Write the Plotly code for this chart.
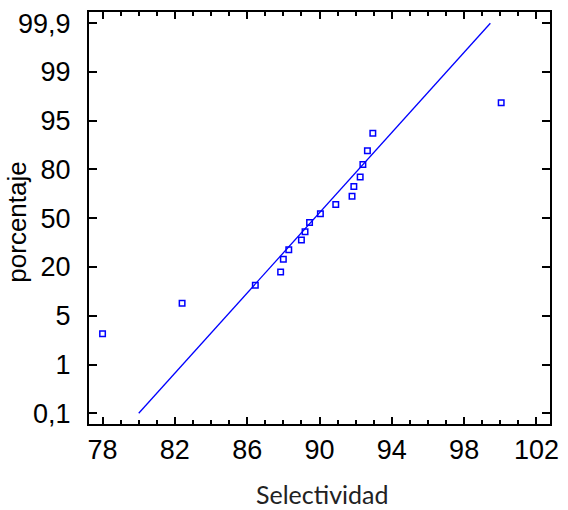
import numpy as np
from statistics import NormalDist
import plotly.graph_objects as go

# Observed data (Selectividad) and plotted cumulative percentages
selectividad = [78.0, 82.4, 86.45, 87.85, 88.0, 88.3, 89.0, 89.2, 89.45,
                90.05, 90.9, 91.8, 91.9, 92.25, 92.4, 92.65, 92.95, 100.05]
porcentaje = [2.9, 7.5, 12.7, 17.8, 23.9, 29.4, 35.3, 40.8, 47.1,
              53.1, 59.4, 64.8, 70.8, 76.2, 82.2, 87.5, 92.5, 97.1]

# Fitted reference line (end points)
fit_x = [80.0, 99.45]
fit_pct = [0.1, 99.9]

# Probability axis tick labels
tick_pct = [0.1, 1, 5, 20, 50, 80, 95, 99, 99.9]
tick_text = ["0,1", "1", "5", "20", "50", "80", "95", "99", "99,9"]

nd = NormalDist()
tick_z = np.array([nd.inv_cdf(p / 100) for p in tick_pct])
tick_pos = np.arange(len(tick_pct))


def to_axis(pcts):
    z = np.array([nd.inv_cdf(p / 100) for p in pcts])
    return np.interp(z, tick_z, tick_pos)


fig = go.Figure()
fig.add_trace(go.Scatter(
    x=fit_x, y=to_axis(fit_pct), mode="lines",
    line=dict(color="#0000ff", width=1.3), hoverinfo="skip"))
fig.add_trace(go.Scatter(
    x=selectividad, y=to_axis(porcentaje), mode="markers",
    marker=dict(symbol="square-open", size=5.5, color="#0000ff",
                line=dict(color="#0000ff", width=1.5))))

fig.update_layout(
    width=568, height=510,
    margin=dict(l=89, r=9, t=11, b=86),
    paper_bgcolor="white", plot_bgcolor="white",
    showlegend=False,
    font=dict(family="Liberation Sans, Arial", size=27, color="black"),
)
fig.update_xaxes(
    range=[77.25, 102.75], tickvals=[78, 82, 86, 90, 94, 98, 102],
    ticks="inside", ticklen=7, tickwidth=1.5, tickcolor="black",
    minor=dict(ticks="inside", dtick=1, tick0=78, ticklen=4, tickwidth=1.5, tickcolor="black"),
    showline=True, linewidth=2, linecolor="black", mirror="allticks",
    showgrid=False, zeroline=False, ticklabelstandoff=1,
)
fig.update_yaxes(
    range=[-0.22, 8.23], tickvals=list(tick_pos), ticktext=tick_text,
    ticks="inside", ticklen=8, tickwidth=1.5, tickcolor="black",
    showline=True, linewidth=2, linecolor="black", mirror="allticks",
    showgrid=False, zeroline=False, ticklabelstandoff=11,
)
fig.add_annotation(text="porcentaje", xref="paper", yref="paper",
                   x=-0.155, y=0.49, xanchor="center", yanchor="middle",
                   textangle=-90, showarrow=False,
                   font=dict(family="Liberation Sans, Arial", size=26))
fig.add_annotation(text="Selectividad", xref="paper", yref="paper",
                   x=0.505, y=-0.17, xanchor="center", yanchor="middle",
                   showarrow=False,
                   font=dict(family="Lato", size=25, color="#222222"))

fig.write_html("out.html")
